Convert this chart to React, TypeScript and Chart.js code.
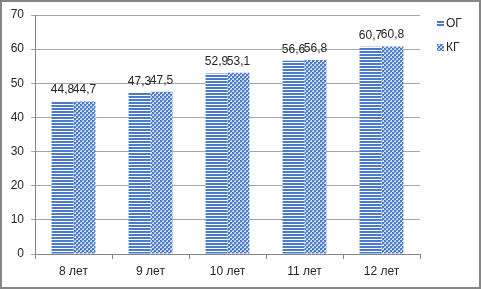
import React, { useEffect, useRef } from "react";
import { Chart, registerables } from "chart.js";

Chart.register(...registerables);

const categories = ["8 лет", "9 лет", "10 лет", "11 лет", "12 лет"];
const seriesNames = ["ОГ", "КГ"];
const ogValues = [44.8, 47.3, 52.9, 56.6, 60.7];
const kgValues = [44.7, 47.5, 53.1, 56.8, 60.8];

const BLUE = "#4a7acb";
const FONT = "'Liberation Sans', Arial, sans-serif";

function stripePattern(): CanvasPattern | string {
  const c = document.createElement("canvas");
  c.width = 4;
  c.height = 3;
  const x = c.getContext("2d");
  if (!x) return BLUE;
  x.fillStyle = "#ffffff";
  x.fillRect(0, 0, 4, 3);
  x.fillStyle = BLUE;
  x.fillRect(0, 0, 4, 2);
  return x.createPattern(c, "repeat") || BLUE;
}

function checkPattern(): CanvasPattern | string {
  const c = document.createElement("canvas");
  c.width = 4;
  c.height = 4;
  const x = c.getContext("2d");
  if (!x) return BLUE;
  x.fillStyle = "#d6e0f3";
  x.fillRect(0, 0, 4, 4);
  x.fillStyle = BLUE;
  x.fillRect(0, 0, 2, 2);
  x.fillRect(2, 2, 2, 2);
  x.fillStyle = "#7d9fdb";
  x.fillRect(2, 0, 1, 1);
  x.fillRect(0, 2, 1, 1);
  return x.createPattern(c, "repeat") || BLUE;
}

export default function App() {
  const ref = useRef<HTMLCanvasElement>(null);

  useEffect(() => {
    if (!ref.current) return;
    const p1 = stripePattern();
    const p2 = checkPattern();
    const fills = [p1, p2];

    const labelsPlugin = {
      id: "valueLabels",
      afterDatasetsDraw(chart: any) {
        const ctx = chart.ctx;
        ctx.save();
        ctx.font = `12px ${FONT}`;
        ctx.fillStyle = "#262626";
        ctx.textAlign = "center";
        ctx.textBaseline = "alphabetic";
        chart.data.datasets.forEach((ds: any, di: number) => {
          const meta = chart.getDatasetMeta(di);
          meta.data.forEach((el: any, i: number) => {
            const v = ds.data[i] as number;
            const txt = v.toFixed(1).replace(".", ",");
            ctx.fillText(txt, el.x, el.y - 8);
          });
        });
        ctx.restore();
      },
    };

    const legendPlugin = {
      id: "customLegend",
      afterDraw(chart: any) {
        const ctx = chart.ctx;
        ctx.save();
        ctx.font = `12px ${FONT}`;
        ctx.textAlign = "left";
        ctx.textBaseline = "middle";
        const ys = [23, 47];
        seriesNames.forEach((name, i) => {
          ctx.fillStyle = fills[i] as any;
          ctx.fillRect(437, ys[i] - 3, 7, 7);
          ctx.fillStyle = "#262626";
          ctx.fillText(name, 446, ys[i] + 1);
        });
        ctx.strokeStyle = "#868686";
        ctx.lineWidth = 2;
        ctx.strokeRect(1, 1, 479, 287);
        ctx.restore();
      },
    };

    const chart = new Chart(ref.current, {
      type: "bar",
      data: {
        labels: categories,
        datasets: [
          {
            label: seriesNames[0],
            data: ogValues,
            backgroundColor: p1 as any,
            borderWidth: 0,
            categoryPercentage: 0.57,
            barPercentage: 1,
          },
          {
            label: seriesNames[1],
            data: kgValues,
            backgroundColor: p2 as any,
            borderWidth: 0,
            categoryPercentage: 0.57,
            barPercentage: 1,
          },
        ],
      },
      options: {
        responsive: false,
        animation: false,
        devicePixelRatio: 1,
        layout: { padding: { left: 0, right: 61, top: 15, bottom: 0 } },
        plugins: {
          legend: { display: false },
          tooltip: { enabled: false },
          title: { display: false },
        },
        scales: {
          x: {
            afterFit(scale: any) {
              scale.height = 35;
            },
            grid: {
              drawOnChartArea: false,
              drawTicks: true,
              tickLength: 5,
              offset: true,
              color: "#868686",
            },
            border: { display: true, color: "#868686" },
            ticks: {
              color: "#262626",
              font: { family: FONT, size: 12 },
              padding: 5,
              maxRotation: 0,
            },
          },
          y: {
            min: 0,
            max: 70,
            afterFit(scale: any) {
              scale.width = 35;
            },
            grid: {
              color: "#a6a6a6",
              drawTicks: true,
              tickLength: 4,
            },
            border: { display: true, color: "#868686" },
            ticks: {
              stepSize: 10,
              color: "#262626",
              font: { family: FONT, size: 12 },
              padding: 7,
            },
          },
        },
      },
      plugins: [labelsPlugin, legendPlugin],
    });
    return () => chart.destroy();
  }, []);

  return (
    <div style={{ position: "fixed", left: 0, top: 0, width: 481, height: 289, background: "#fff" }}>
      <canvas ref={ref} width={481} height={289} style={{ display: "block" }} />
    </div>
  );
}
